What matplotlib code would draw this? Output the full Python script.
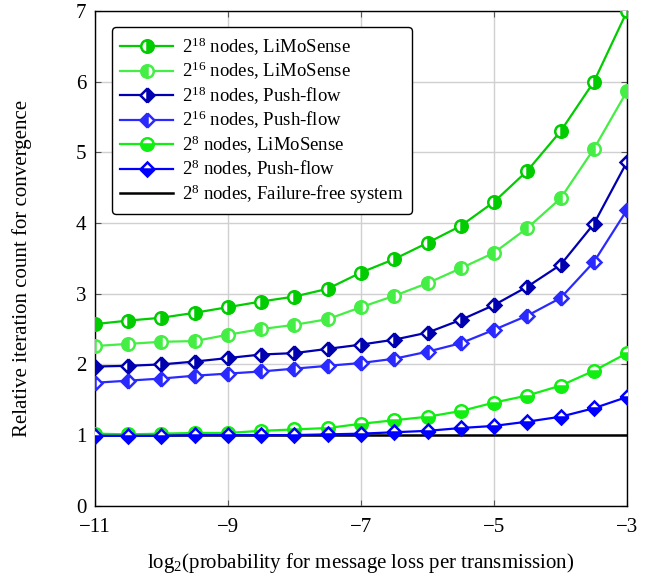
import matplotlib
matplotlib.use("Agg")
import matplotlib.pyplot as plt

plt.rcParams['font.family'] = ['Liberation Serif', 'DejaVu Serif']
plt.rcParams['mathtext.fontset'] = 'custom'
plt.rcParams['mathtext.rm'] = 'Liberation Serif'
plt.rcParams['mathtext.it'] = 'Liberation Serif:italic'

x = [-11, -10.5, -10, -9.5, -9, -8.5, -8, -7.5, -7, -6.5, -6, -5.5, -5, -4.5, -4, -3.5, -3]

lim18 = [2.57, 2.62, 2.66, 2.73, 2.81, 2.89, 2.96, 3.07, 3.30, 3.49, 3.72, 3.96, 4.30, 4.74, 5.30, 6.00, 7.00]
lim16 = [2.26, 2.29, 2.32, 2.33, 2.42, 2.50, 2.56, 2.64, 2.81, 2.97, 3.15, 3.36, 3.58, 3.93, 4.35, 5.05, 5.87]
push18 = [1.97, 1.98, 2.00, 2.04, 2.09, 2.14, 2.16, 2.22, 2.28, 2.35, 2.45, 2.63, 2.84, 3.10, 3.41, 3.99, 4.87]
push16 = [1.74, 1.77, 1.80, 1.84, 1.87, 1.90, 1.94, 1.98, 2.02, 2.08, 2.18, 2.30, 2.49, 2.69, 2.94, 3.45, 4.19]
lim8 = [1.02, 1.01, 1.02, 1.03, 1.03, 1.06, 1.08, 1.10, 1.16, 1.21, 1.26, 1.34, 1.46, 1.56, 1.70, 1.91, 2.16]
push8 = [0.99, 0.99, 0.99, 1.00, 1.00, 1.00, 1.00, 1.01, 1.02, 1.04, 1.06, 1.10, 1.13, 1.19, 1.26, 1.38, 1.54]
failfree = [1.0] * len(x)

labels = [r"$2^{18}$ nodes, LiMoSense", r"$2^{16}$ nodes, LiMoSense",
          r"$2^{18}$ nodes, Push-flow", r"$2^{16}$ nodes, Push-flow",
          r"$2^{8}$ nodes, LiMoSense", r"$2^{8}$ nodes, Push-flow",
          r"$2^{8}$ nodes, Failure-free system"]

fig = plt.figure(figsize=(6.54, 5.80), dpi=100)
ax = fig.add_axes([0.145, 0.128, 0.814, 0.853])

styles = [
    (lim18, '#00cc00', 'o', 'right'),
    (lim16, '#44ee44', 'o', 'left'),
    (push18, '#0000b0', 'D', 'right'),
    (push16, '#2a2aff', 'D', 'left'),
    (lim8, '#11ee11', 'o', 'bottom'),
    (push8, '#0000ff', 'D', 'bottom'),
]

handles = []
for (ys, c, m, fs), lab in zip(styles, labels[:6]):
    ms = 9 if m == 'o' else 7.5
    h, = ax.plot(x, ys, color=c, lw=1.6, marker=m, markersize=ms, fillstyle=fs,
                 markerfacecolor=c, markerfacecoloralt='white', markeredgecolor=c,
                 markeredgewidth=1.8, label=lab, zorder=3)
    handles.append(h)
h, = ax.plot(x, failfree, color='black', lw=1.8, label=labels[6], zorder=2)
handles.append(h)

ax.set_xlim(-11, -3)
ax.set_ylim(0, 7)
ax.set_xticks([-11, -9, -7, -5, -3])
ax.set_xticklabels(['\u221211', '\u22129', '\u22127', '\u22125', '\u22123'])
ax.set_yticks(range(0, 8))
ax.grid(True, color='#d0d0d0', lw=1.0)
ax.set_axisbelow(True)
ax.tick_params(direction='in', length=4, labelsize=15, color='#555555', top=True, right=True)
ax.tick_params(axis='x', pad=9)
ax.tick_params(axis='y', pad=6)
for s in ax.spines.values():
    s.set_linewidth(1.0)

ax.set_xlabel(r"log$_2$(probability for message loss per transmission)", fontsize=15)
ax.xaxis.set_label_coords(0.5, -0.092)
ax.set_ylabel("Relative iteration count for convergence", fontsize=15)
ax.yaxis.set_label_coords(-0.118, 0.48)

leg = ax.legend(handles=handles, loc='upper left', bbox_to_anchor=(0.025, 0.975),
                fontsize=13.5, frameon=True, fancybox=True, edgecolor='black',
                handlelength=2.8, handletextpad=0.5, labelspacing=0.12,
                borderpad=0.45, borderaxespad=0.2, framealpha=1)
leg.get_frame().set_linewidth(1.0)

fig.savefig('out.png', dpi=100)
